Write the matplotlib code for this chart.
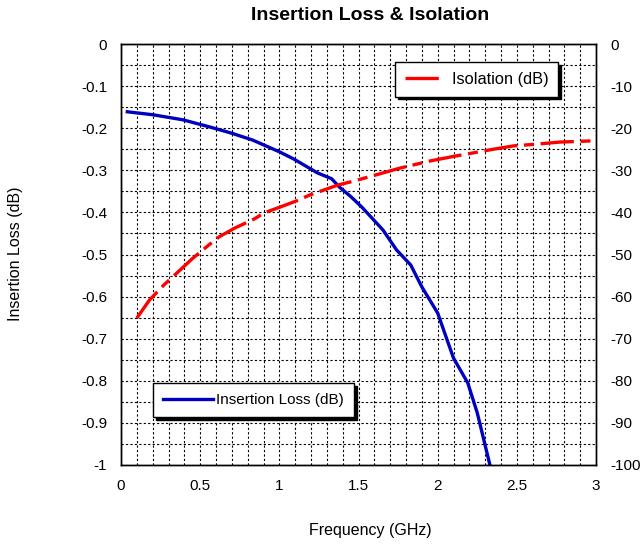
import matplotlib
matplotlib.use("Agg")
import matplotlib.pyplot as plt
from matplotlib.ticker import MultipleLocator, FuncFormatter

plt.rcParams['font.family'] = ['Liberation Sans', 'DejaVu Sans']

il_freq = [0.04, 0.2, 0.39, 0.56, 0.7, 0.83, 1.0, 1.09, 1.24, 1.33, 1.38, 1.45, 1.52,
           1.655, 1.74, 1.83, 1.90, 2.0, 2.10, 2.19, 2.25, 2.33]
il_db = [-0.161, -0.168, -0.180, -0.197, -0.212, -0.228, -0.256, -0.273, -0.306, -0.320,
         -0.340, -0.362, -0.387, -0.442, -0.489, -0.525, -0.577, -0.639, -0.746, -0.805,
         -0.876, -1.0]

iso_freq = [0.10, 0.18, 0.272, 0.347, 0.45, 0.556, 0.62, 0.72, 0.84, 0.905, 1.0, 1.12, 1.19,
            1.37, 1.466, 1.60, 1.76, 1.95, 2.1, 2.22, 2.35, 2.48, 2.62, 2.77, 2.98]
iso_db = [-65.1, -60.8, -57.2, -54.6, -51.0, -47.7, -45.8, -43.7, -41.6, -40.1, -38.8,
          -37.1, -35.9, -33.5, -32.6, -31.2, -29.5, -27.8, -26.7, -25.9, -25.0, -24.2,
          -23.8, -23.3, -23.0]

fig = plt.figure(figsize=(6.41, 5.44), dpi=100)
ax = fig.add_axes([121/641, 1-465/544, 475/641, 421/544])
ax2 = ax.twinx()

ax.set_xlim(0, 3)
ax.set_ylim(-1, 0)
ax2.set_ylim(-100, 0)

ax.xaxis.set_major_locator(MultipleLocator(0.5))
ax.xaxis.set_minor_locator(MultipleLocator(0.1))
ax.yaxis.set_major_locator(MultipleLocator(0.1))
ax.yaxis.set_minor_locator(MultipleLocator(0.05))
ax2.yaxis.set_major_locator(MultipleLocator(10))

def fmt(v, p):
    s = ('%.2f' % v).rstrip('0').rstrip('.')
    if s in ('-0', ''):
        s = '0'
    return s
ax.xaxis.set_major_formatter(FuncFormatter(fmt))
ax.yaxis.set_major_formatter(FuncFormatter(fmt))
ax2.yaxis.set_major_formatter(FuncFormatter(fmt))

ax.grid(True, which='both', color='black', linestyle=(0, (2, 2)), linewidth=0.8)
ax.tick_params(which='both', direction='in', labelsize=11, pad=10, length=0)
ax2.tick_params(which='both', direction='in', labelsize=11, pad=10, length=0)
for a in (ax, ax2):
    for s in a.spines.values():
        s.set_linewidth(1.0)

l1, = ax.plot(il_freq, il_db, color='#0000c0', linewidth=2.4, label='Insertion Loss (dB)')
l2, = ax2.plot(iso_freq, iso_db, color='#ff0000', linewidth=2.4,
               dashes=(10, 2, 3, 2), label='Isolation (dB)')

shadow = {'color': 'black', 'alpha': 1.0}
leg1 = ax2.legend(handles=[l1], loc='upper left', bbox_to_anchor=(153/641, 1-383/544),
                  bbox_transform=fig.transFigure, frameon=True, fancybox=False,
                  shadow=shadow, fontsize=11, handlelength=3.3, borderpad=0.65,
                  handletextpad=0.2, borderaxespad=0)
leg1.get_frame().set_edgecolor('black')
leg1.get_frame().set_linewidth(1.0)
ax2.add_artist(leg1)
leg2 = ax2.legend(handles=[l2], loc='upper left', bbox_to_anchor=(395/641, 1-62/544),
                  bbox_transform=fig.transFigure, frameon=True, fancybox=False,
                  shadow=shadow, fontsize=11.8, handlelength=2.3, borderpad=0.6,
                  handletextpad=0.55, borderaxespad=0)
leg2.get_frame().set_edgecolor('black')
leg2.get_frame().set_linewidth(1.0)

fig.text(370/641, 1-16/544, 'Insertion Loss & Isolation', ha='center', va='center',
         fontsize=14, fontweight='bold')
fig.text(370/641, 1-531/544, 'Frequency (GHz)', ha='center', va='center', fontsize=11.5)
fig.text(16/641, 1-254/544, 'Insertion Loss (dB)', ha='center', va='center',
         fontsize=11.5, rotation=90)

fig.savefig('out.png', dpi=100)
